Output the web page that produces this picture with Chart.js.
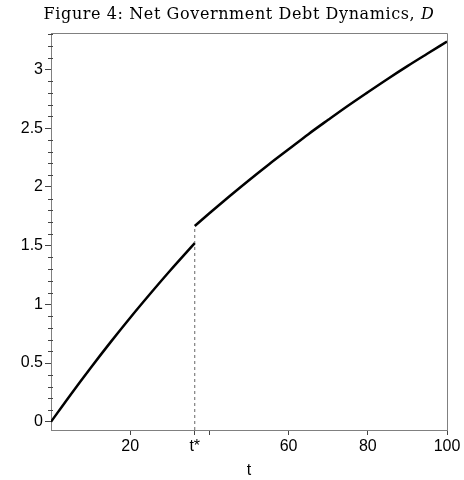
<!DOCTYPE html>
<html>
<head>
<meta charset="utf-8">
<script src="https://cdn.jsdelivr.net/npm/chart.js@4"></script>
<style>
html,body{margin:0;padding:0;background:#fff;}
canvas{display:block;}
</style>
</head>
<body>
<canvas id="c" width="464" height="480"></canvas>
<script>
// ---- data ----
const tStar = 36.3;
const tBefore = [0, 5, 10, 15, 20, 25, 30, 36.3];
const dBefore = [0, 0.233, 0.458, 0.676, 0.886, 1.088, 1.284, 1.521];
const tAfter = [36.3, 40, 45, 50, 55, 60, 65, 70, 75, 80, 85, 90, 95, 100];
const dAfter = [1.667, 1.775, 1.918, 2.057, 2.191, 2.320, 2.449, 2.571, 2.691, 2.806, 2.919, 3.028, 3.133, 3.237];
const xTickValues = [20, 36.3, 40, 60, 80, 100];
const xTickLabels = ['20', 't*', '', '60', '80', '100'];
const yTickValues = [0, 0.5, 1, 1.5, 2, 2.5, 3];
const yTickLabels = ['0', '0.5', '1', '1.5', '2', '2.5', '3'];
const yMinorTicks = [0.1,0.2,0.3,0.4,0.6,0.7,0.8,0.9,1.1,1.2,1.3,1.4,1.6,1.7,1.8,1.9,2.1,2.2,2.3,2.4,2.6,2.7,2.8,2.9,3.1,3.2,3.3];
const titleText = 'Figure 4: Net Government Debt Dynamics, ';
const titleItalic = 'D';

const AXIS = '#808080';

const toPts = (xs, ys) => xs.map((x, i) => ({x: x, y: ys[i]}));

const framePlugin = {
  id: 'frame',
  afterDraw(chart) {
    const ctx = chart.ctx, a = chart.chartArea;
    const ys = chart.scales.y;
    ctx.save();
    ctx.strokeStyle = AXIS;
    ctx.lineWidth = 1;
    ctx.beginPath();
    ctx.moveTo(a.left, a.top + 0.5);
    ctx.lineTo(a.right + 0.5, a.top + 0.5);
    ctx.lineTo(a.right + 0.5, a.bottom);
    ctx.stroke();
    ctx.strokeStyle = '#444';
    ctx.beginPath();
    yMinorTicks.forEach(v => {
      const p = Math.round(ys.getPixelForValue(v)) + 0.5;
      ctx.moveTo(a.left - 3, p);
      ctx.lineTo(a.left + 2, p);
    });
    ctx.stroke();
    // title
    ctx.fillStyle = '#000';
    ctx.textBaseline = 'middle';
    ctx.letterSpacing = '0.6px';
    ctx.font = '16px "DejaVu Serif"';
    const w1 = ctx.measureText(titleText).width;
    ctx.font = 'italic 16px "DejaVu Serif"';
    const w2 = ctx.measureText(titleItalic).width;
    const x0 = 239 - (w1 + w2) / 2;
    ctx.font = '16px "DejaVu Serif"';
    ctx.textAlign = 'left';
    ctx.fillText(titleText, x0, 15);
    ctx.font = 'italic 16px "DejaVu Serif"';
    ctx.fillText(titleItalic, x0 + w1, 15);
    ctx.restore();
  }
};

new Chart(document.getElementById('c'), {
  type: 'scatter',
  data: {
    datasets: [
      {
        data: [{x: tStar, y: -0.07}, {x: tStar, y: dAfter[0]}],
        showLine: true, borderColor: '#666', borderWidth: 1, borderDash: [3, 3],
        pointRadius: 0, order: 3
      },
      {
        data: toPts(tBefore, dBefore),
        showLine: true, borderColor: '#000', borderWidth: 2.5,
        pointRadius: 0, cubicInterpolationMode: 'monotone', order: 1
      },
      {
        data: toPts(tAfter, dAfter),
        showLine: true, borderColor: '#000', borderWidth: 2.5,
        pointRadius: 0, cubicInterpolationMode: 'monotone', order: 1
      }
    ]
  },
  options: {
    responsive: false,
    animation: false,
    layout: {padding: {top: 33, right: 17, left: 0, bottom: 0}},
    plugins: {legend: {display: false}, tooltip: {enabled: false}, title: {display: false}},
    scales: {
      x: {
        type: 'linear', min: 0, max: 100,
        afterBuildTicks: s => { s.ticks = xTickValues.map(v => ({value: v})); },
        afterFit: s => { s.height = 50; },
        ticks: {
          autoSkip: false, maxRotation: 0, color: '#000', padding: 2,
          font: {family: 'Liberation Sans', size: 16},
          callback: (v, i) => xTickLabels[i]
        },
        grid: {drawOnChartArea: false, drawTicks: true, tickLength: 5, tickColor: '#444'},
        border: {color: AXIS, width: 1},
        title: {display: true, text: 't', color: '#000', font: {family: 'Liberation Sans', size: 16}, padding: {top: 0, bottom: 0}}
      },
      y: {
        type: 'linear', min: -0.07, max: 3.31,
        afterBuildTicks: s => { s.ticks = yTickValues.map(v => ({value: v})); },
        afterFit: s => { s.width = 51; },
        ticks: {
          color: '#000', padding: 2,
          font: {family: 'Liberation Sans', size: 16},
          callback: (v, i) => yTickLabels[i]
        },
        grid: {drawOnChartArea: false, drawTicks: true, tickLength: 6, tickColor: '#444'},
        border: {color: AXIS, width: 1}
      }
    }
  },
  plugins: [framePlugin]
});
</script>
</body>
</html>
